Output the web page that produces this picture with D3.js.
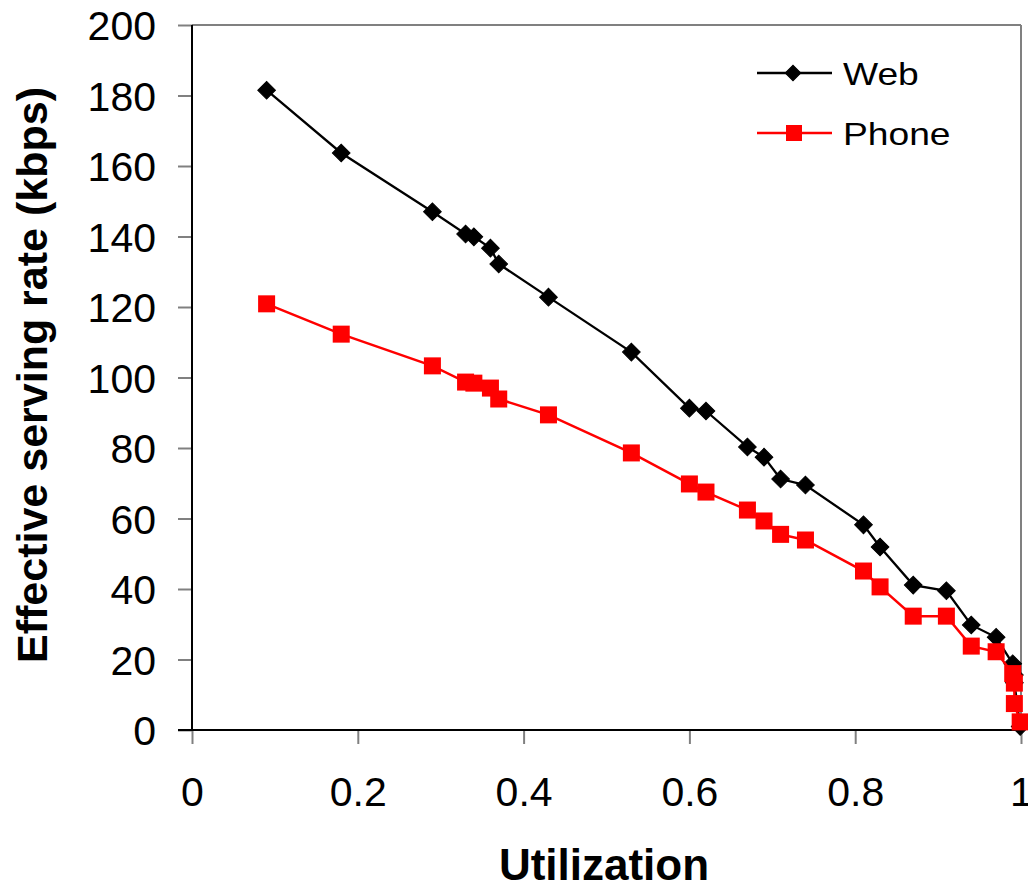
<!DOCTYPE html>
<html><head><meta charset="utf-8">
<script src="https://cdn.jsdelivr.net/npm/d3@7"></script>
<style>body{margin:0;background:#fff}svg{display:block}text{font-family:"Liberation Sans",Arial,sans-serif;fill:#000}</style>
</head><body>
<script>
const utilization = [0.09,0.18,0.29,0.33,0.34,0.36,0.37,0.43,0.53,0.60,0.62,0.67,0.69,0.71,0.74,0.81,0.83,0.87,0.91,0.94,0.97,0.99,0.992,0.992,0.999];
const webRate =   [181.5,163.7,147,140.7,139.9,136.7,132.2,122.8,107.2,91.3,90.5,80.3,77.4,71.2,69.5,58.2,51.9,41.1,39.5,29.8,26.3,18.8,15.6,13.4,1.0];
const phoneRate = [120.9,112.3,103.3,98.7,98.4,97.0,93.9,89.4,78.6,69.8,67.5,62.4,59.3,55.5,53.9,45.1,40.6,32.3,32.3,23.8,22.2,16.0,13.3,7.5,2.3];
const seriesNames = ["Web","Phone"];
const xTicks = [0,0.2,0.4,0.6,0.8,1];
const xTickLabels = ["0","0.2","0.4","0.6","0.8","1"];
const yTicks = [0,20,40,60,80,100,120,140,160,180,200];

const W=1028,H=884;
const svg=d3.select("body").append("svg").attr("width",W).attr("height",H);
const x=d3.scaleLinear().domain([0,1]).range([192,1021]);
const y=d3.scaleLinear().domain([0,200]).range([730,25]);

svg.append("line").attr("x1",x(0)).attr("x2",x(1)).attr("y1",y(200)).attr("y2",y(200)).attr("stroke","#808080").attr("stroke-width",2);
svg.append("line").attr("x1",x(1)).attr("x2",x(1)).attr("y1",y(200)).attr("y2",y(0)).attr("stroke","#808080").attr("stroke-width",2);

const ya=svg.append("g").attr("transform",`translate(${x(0)},0)`)
  .call(d3.axisLeft(y).tickValues(yTicks).tickSize(14).tickPadding(22).tickFormat(d3.format("d")));
ya.select(".domain").remove();
ya.selectAll(".tick line").attr("stroke","#808080").attr("stroke-width",2);
ya.selectAll(".tick text").style("font-size","41px").attr("dy","0.36em");
const xa=svg.append("g").attr("transform",`translate(0,${y(0)})`)
  .call(d3.axisBottom(x).tickValues(xTicks).tickSize(14).tickPadding(33).tickFormat((d,i)=>xTickLabels[i]));
xa.select(".domain").remove();
xa.selectAll(".tick line").attr("stroke","#808080").attr("stroke-width",2);
xa.selectAll(".tick text").style("font-size","41px").attr("dy","0.71em");

svg.append("line").attr("x1",x(0)).attr("x2",x(0)).attr("y1",y(200)).attr("y2",y(0)+1).attr("stroke","#000").attr("stroke-width",2);
svg.append("line").attr("x1",x(0)-14).attr("x2",x(1)).attr("y1",y(0)).attr("y2",y(0)).attr("stroke","#000").attr("stroke-width",2);

svg.append("text").attr("x",604).attr("y",880).attr("text-anchor","middle")
  .style("font-size","44px").style("font-weight","bold").text("Utilization");
svg.append("text").attr("transform","translate(47,375) rotate(-90)").attr("text-anchor","middle")
  .style("font-size","43px").style("font-weight","bold").text("Effective serving rate (kbps)");

const line=d3.line().x(d=>x(d[0])).y(d=>y(d[1]));
const webData=utilization.map((u,i)=>[u,webRate[i]]);
const phoneData=utilization.map((u,i)=>[u,phoneRate[i]]);

function diamond(g,cx,cy,s){
  g.append("rect").attr("x",-s/2).attr("y",-s/2).attr("width",s).attr("height",s)
   .attr("transform",`translate(${cx},${cy}) rotate(45)`).attr("fill","#000").attr("stroke","#000").attr("stroke-width",1);
}
function square(g,cx,cy,s){
  g.append("rect").attr("x",cx-s/2).attr("y",cy-s/2).attr("width",s).attr("height",s).attr("fill","#ff0000");
}

const gw=svg.append("g");
gw.append("path").datum(webData).attr("d",line).attr("fill","none").attr("stroke","#000").attr("stroke-width",2.3);
webData.forEach(d=>diamond(gw,x(d[0]),y(d[1]),12.5));
const gp=svg.append("g");
gp.append("path").datum(phoneData).attr("d",line).attr("fill","none").attr("stroke","#ff0000").attr("stroke-width",2.5);
phoneData.forEach(d=>square(gp,x(d[0]),y(d[1]),17));

const lg=svg.append("g");
[[73,"#000",2.3],[133,"#ff0000",2.5]].forEach((r,i)=>{
  lg.append("line").attr("x1",757).attr("x2",832).attr("y1",r[0]).attr("y2",r[0]).attr("stroke",r[1]).attr("stroke-width",r[2]);
  if(i===0) diamond(lg,793,r[0],11); else square(lg,794,r[0],16);
  lg.append("text").attr("transform",`translate(843,${r[0]+12}) scale(1.2,1)`).style("font-size","31px").text(seriesNames[i]);
});
</script>
</body></html>
